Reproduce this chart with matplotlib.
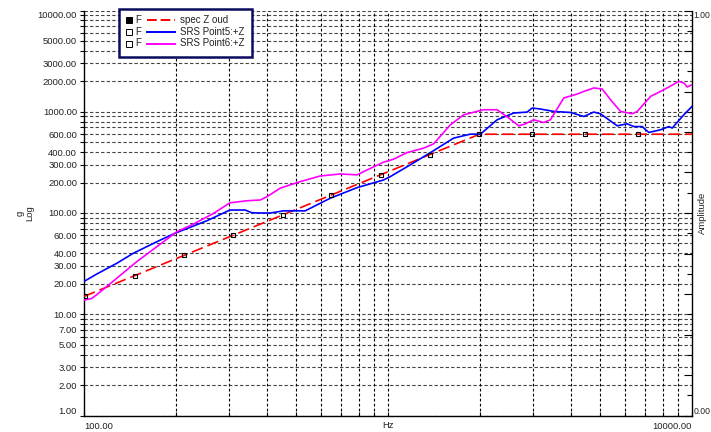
import numpy as np
import matplotlib
matplotlib.use("Agg")
import matplotlib.pyplot as plt
from matplotlib.patches import Rectangle
from matplotlib.lines import Line2D

plt.rcParams['font.family'] = ['Liberation Sans', 'DejaVu Sans']
plt.rcParams['font.size'] = 6.8

# spec line (breakpoints) and its square markers
spec_freq = [100, 2000, 10000]
spec_g = [15, 600, 600]
mark_freq = [101, 147, 214, 309, 451, 650, 948, 1377, 1995, 2980, 4440, 6635]
mark_g = [15.2, 24.1, 38.2, 60.1, 95.8, 150, 239, 378, 600, 600, 600, 600]

# SRS Point5:+Z
p5_freq = [100, 110, 128, 145, 173.5, 199, 254, 302, 339, 356, 380, 410, 453, 534,
           646, 791, 967, 1018, 1184, 1396, 1644, 1866, 2013, 2285, 2592, 2869, 2980,
           3173, 3510, 3984, 4407, 4753, 5000, 5675, 6120, 6437, 6858, 7210, 7882,
           8395, 8610, 9400, 10000]
p5_g = [21.1, 24.9, 31.8, 39.9, 52, 63, 84, 107, 107, 100.7, 100, 100, 105, 105,
        140, 178, 212, 229, 299, 404, 549, 601, 600, 833, 971, 993, 1088,
        1064, 1007, 984, 898, 993, 955, 726, 760, 714, 714, 624, 664,
        714, 690, 933, 1128]

# SRS Point6:+Z
p6_freq = [100, 106, 113, 128, 149, 173.5, 202, 229, 267, 302, 343, 380, 400, 442,
           514, 598, 697, 791, 831, 967, 1043, 1155, 1310, 1413, 1604, 1774, 2064,
           2285, 2495, 2692, 2831, 3016, 3253, 3422, 3786, 4192, 4407, 4753, 5066,
           5395, 5821, 6359, 6605, 7307, 8083, 9055, 9404, 9649, 10000]
p6_g = [13.8, 14.3, 16.6, 22.6, 33, 46.4, 65.3, 77.8, 99.3, 126, 132, 134.5, 145, 176,
        204, 232, 243, 238, 256, 318, 340, 395, 437, 482, 743, 933, 1047,
        1047, 867, 726, 760, 833, 783, 833, 1368, 1497, 1589, 1718, 1678,
        1315, 1007, 955, 1007, 1417, 1652, 1995, 1923, 1757, 1849]

y_major = [1, 2, 3, 5, 7, 10, 20, 30, 40, 60, 100, 200, 300, 400, 600,
           1000, 2000, 3000, 5000, 10000]
y_minor = [m * d for d in [1, 10, 100, 1000] for m in range(1, 10)] + [10000]
x_minor = [m * d for d in [100, 1000] for m in range(2, 10)] + [1000]

legend_labels = ['spec Z oud', 'SRS Point5:+Z', 'SRS Point6:+Z']
legend_colors = ['#ff0000', '#0000ff', '#ff00ff']

W, H = 711, 432
fig = plt.figure(figsize=(W / 100, H / 100), dpi=100)
ax = fig.add_axes([84 / W, 1 - 415.5 / H, 608 / W, 405 / H])

ax.plot(spec_freq, spec_g, color='#ff0000', lw=1.2, dashes=(7, 3), zorder=3)
ax.plot(mark_freq, mark_g, ls='none', marker='s', ms=3.5, mfc='none',
        mec='black', mew=0.8, zorder=4)
ax.plot(p5_freq, p5_g, color='#0000ff', lw=1.2, zorder=3)
ax.plot(p6_freq, p6_g, color='#ff00ff', lw=1.2, zorder=3)

ax.set_xscale('log')
ax.set_yscale('log')
ax.set_xlim(100, 10000)
ax.set_ylim(1, 10000)

ax.set_xticks([100, 10000])
ax.set_xticklabels(['100.00', '10000.00'])
ax.set_xticks(x_minor, minor=True)
ax.set_xticklabels([], minor=True)
xl = ax.get_xticklabels()
xl[0].set_horizontalalignment('left')
xl[1].set_horizontalalignment('right')

ax.set_yticks(y_major)
ax.set_yticklabels(['%.2f' % v for v in y_major])
ax.set_yticks([v for v in y_minor if v not in y_major], minor=True)
ax.set_yticklabels([], minor=True)
yl = ax.get_yticklabels()
yl[0].set_verticalalignment('bottom')
yl[-1].set_verticalalignment('top')

ax.tick_params(axis='both', which='both', length=3, width=0.8, color='black',
               labelcolor='#222222')
ax.tick_params(axis='x', which='both', direction='in', pad=5)
ax.tick_params(axis='y', which='both', direction='out', pad=2)

for v in y_minor:
    ax.axhline(v, color='#444444', lw=0.8, ls=(0, (3, 2)), zorder=1)
for v in x_minor:
    ax.axvline(v, color='black', lw=0.8, ls=(0, (2.5, 2)), zorder=1)

for s in ['left', 'bottom', 'right']:
    ax.spines[s].set_linewidth(1.0)
ax.spines['top'].set_visible(False)

# right amplitude axis
ax2 = ax.twinx()
ax2.set_ylim(0, 1)
ax2.set_yticks(np.linspace(0, 1, 11))
ax2.set_yticklabels(['0.00'] + [''] * 9 + ['1.00'])
ax2.set_yticks(np.linspace(0.05, 0.95, 10), minor=True)
ax2.tick_params(axis='y', which='major', direction='in', length=6, width=0.8, pad=1,
                labelcolor='#222222', labelsize=6.2)
ax2.tick_params(axis='y', which='minor', direction='in', length=3.5, width=0.8)
r = ax2.get_yticklabels()
r[0].set_verticalalignment('bottom')
r[-1].set_verticalalignment('top')
for s in ax2.spines.values():
    s.set_visible(False)

fig.text(25 / W, 1 - 213 / H, 'g\nLog', rotation=90, ha='center', va='center',
         color='#222222', linespacing=1.1)
fig.text(702 / W, 1 - 213 / H, 'Amplitude', rotation=90, ha='center', va='center',
         color='#222222')
fig.text(388 / W, 1 - 425 / H, 'Hz', ha='center', va='center', color='#222222')

# legend box drawn by hand
def px(x, y):
    return x / W, 1 - y / H

x0, y0 = px(119, 56.5)
x1, y1 = px(252, 8.5)
fig.patches.append(Rectangle((x0, y0), x1 - x0, y1 - y0, transform=fig.transFigure,
                             facecolor='white', edgecolor='#0a0a5e', lw=1.8, zorder=10))
rows = [20, 32, 43.5]
for i, (lab, col) in enumerate(zip(legend_labels, legend_colors)):
    yy = rows[i]
    fig.add_artist(Line2D([px(128.5, yy)[0]], [px(128.5, yy)[1]], marker='s', ms=5,
                          mfc='black' if i == 0 else 'white', mec='black', mew=0.7,
                          ls='none', transform=fig.transFigure, zorder=11))
    fig.text(*px(135, yy), 'F', ha='left', va='center', fontsize=7, color='#222222',
             zorder=11)
    lx0, ly = px(147, yy)
    lx1, _ = px(175, yy)
    fig.add_artist(Line2D([lx0, lx1], [ly, ly], color=col, lw=1.4,
                          dashes=(5, 2) if i == 0 else (None, None),
                          transform=fig.transFigure, zorder=11))
    fig.text(*px(180, yy), lab, ha='left', va='center', fontsize=7, color='#222222',
             zorder=11)

fig.savefig('out.png', dpi=100)
